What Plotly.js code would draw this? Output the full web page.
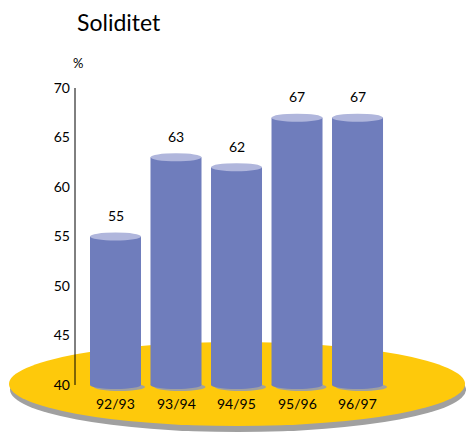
<!DOCTYPE html>
<html>
<head>
<meta charset="utf-8">
<script src="https://cdn.plot.ly/plotly-3.0.1.min.js"></script>
<style>html,body{margin:0;padding:0;background:#fff;}#chart{width:466px;height:433px;}</style>
</head>
<body>
<div id="chart"></div>
<script>
// ---- data ----
var categories = ["92/93", "93/94", "94/95", "95/96", "96/97"];
var values = [55, 63, 62, 67, 67];
var yTicks = [40, 45, 50, 55, 60, 65, 70];
var baseValue = 40;

// ---- style ----
var FONT = "Lato, 'Open Sans', sans-serif";
var barColor = "#6F7DBC";
var topColor = "#B0B6DC";
var shadowColor = "#A0A0A0";
var plateColor = "#FEC90B";
var barW = 0.843;
var pxX = 60.5, pxY = 9.9;      // pixels per unit on each axis
var xRange = [-1.909, 5.793];
var yRange = [35.15, 70];

var shapes = [];
// platter shadow + platter
shapes.push({type: "circle", xref: "x", yref: "y", layer: "below",
  x0: xRange[0] + 10 / pxX, x1: xRange[0] + 466 / pxX,
  y0: baseValue - 47 / pxY, y1: baseValue + 38 / pxY,
  fillcolor: shadowColor, line: {width: 0}});
shapes.push({type: "circle", xref: "x", yref: "y", layer: "below",
  x0: xRange[0] + 9 / pxX, x1: xRange[0] + 465 / pxX,
  y0: baseValue - 41 / pxY, y1: baseValue + 43 / pxY,
  fillcolor: plateColor, line: {width: 0}});
// bar bottom shadows and bottoms
categories.forEach(function (c, i) {
  shapes.push({type: "circle", xref: "x", yref: "y", layer: "below",
    x0: i - barW / 2 + 4 / pxX, x1: i + barW / 2 + 4 / pxX,
    y0: baseValue - 6 / pxY, y1: baseValue + 2 / pxY,
    fillcolor: shadowColor, line: {width: 0}});
});
categories.forEach(function (c, i) {
  shapes.push({type: "circle", xref: "x", yref: "y", layer: "below",
    x0: i - barW / 2, x1: i + barW / 2,
    y0: baseValue - 4 / pxY, y1: baseValue + 4 / pxY,
    fillcolor: barColor, line: {width: 0}});
});
// bar tops
categories.forEach(function (c, i) {
  shapes.push({type: "circle", xref: "x", yref: "y", layer: "above",
    x0: i - barW / 2, x1: i + barW / 2,
    y0: values[i] - 4 / pxY, y1: values[i] + 4 / pxY,
    fillcolor: topColor, line: {width: 0}});
});
// y axis line
shapes.push({type: "line", xref: "paper", yref: "y", layer: "above",
  x0: 75 / 466, x1: 75 / 466, y0: yTicks[0], y1: yTicks[yTicks.length - 1],
  line: {color: "#000", width: 1}});

var annotations = [];
categories.forEach(function (c, i) {
  annotations.push({x: c, y: values[i], xref: "x", yref: "y", text: String(values[i]),
    showarrow: false, yshift: 21, font: {family: FONT, size: 14, color: "#000"}});
  annotations.push({x: c, y: baseValue, xref: "x", yref: "y", text: c,
    showarrow: false, yshift: -19, font: {family: FONT, size: 14, color: "#000"}});
});
annotations.push({x: 78 / 466, y: 1 + 25 / 345, xref: "paper", yref: "paper", text: "%",
  xanchor: "center", yanchor: "middle",
  showarrow: false, font: {family: FONT, size: 13, color: "#000"}});

var trace = {
  type: "bar",
  x: categories,
  y: values.map(function (v) { return v - baseValue; }),
  base: baseValue,
  width: barW,
  marker: {color: barColor, line: {width: 0}},
  hoverinfo: "skip"
};

var layout = {
  width: 466, height: 433,
  margin: {l: 0, r: 0, t: 88, b: 0},
  paper_bgcolor: "#fff", plot_bgcolor: "rgba(0,0,0,0)",
  showlegend: false,
  title: {text: "Soliditet", x: 77 / 466, xanchor: "left", xref: "paper",
    y: 1 - 23 / 433, yref: "container", yanchor: "middle",
    font: {family: FONT, size: 23, color: "#000"}},
  xaxis: {type: "category", range: xRange, domain: [0, 1], showgrid: false,
    zeroline: false, showline: false, showticklabels: false, ticks: ""},
  yaxis: {range: yRange, anchor: "free", position: 75 / 466, side: "left",
    tickvals: yTicks, ticktext: yTicks.map(String), showgrid: false, zeroline: false,
    showline: false, ticks: "", ticklabelstandoff: 5,
    tickfont: {family: FONT, size: 14, color: "#000"}},
  shapes: shapes,
  annotations: annotations
};

Plotly.newPlot("chart", [trace], layout, {staticPlot: true, displayModeBar: false});
</script>
</body>
</html>
